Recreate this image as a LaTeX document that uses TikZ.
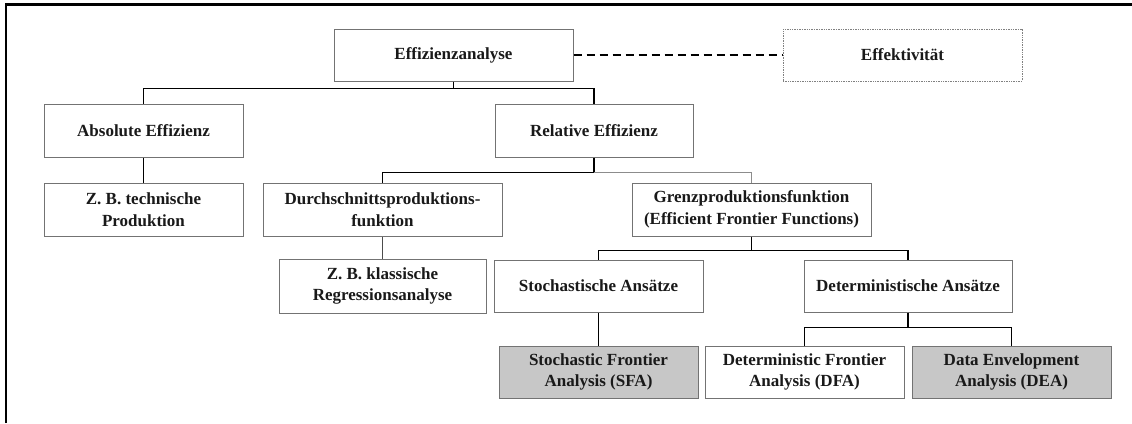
\documentclass[tikz,border=0pt]{standalone}
\usepackage{fontspec}
\setmainfont{Liberation Serif}
\begin{document}
\begin{tikzpicture}[x=1pt,y=-1pt,
  box/.style={draw=black!55,line width=1pt,rectangle,inner sep=0pt,align=center,
    font=\fontsize{17}{21.5}\selectfont\bfseries,text=black!90},
  grey/.style={box,fill=black!22},
  conn/.style={draw=black,line width=1.8pt},
  thinconn/.style={draw=black!45,line width=0.9pt}]
\useasboundingbox (0,0) rectangle (1132,423);
% partial frame
\draw[line width=2.2pt] (6,423) -- (6,4.5) -- (1132,4.5);
% nodes
\node[box,minimum width=239,minimum height=52] (eff) at (453.5,55) {Effizienzanalyse};
\node[box,draw=black!50,dash pattern=on 1pt off 0.7pt,minimum width=239,minimum height=52] (efk) at (902.5,55) {Effektivität};
\node[box,minimum width=199,minimum height=53] (abs) at (143.5,130.5) {Absolute Effizienz};
\node[box,minimum width=198,minimum height=53] (rel) at (594,130.5) {Relative Effizienz};
\node[box,minimum width=199,minimum height=53] (zbt) at (143.5,209.5) {Z. B. technische\\Produktion};
\node[box,minimum width=239,minimum height=53] (dur) at (382.5,209.5) {Durchschnittsproduktions-\\funktion};
\node[box,minimum width=239,minimum height=53] (gre) at (751.5,209.5) {Grenzproduktionsfunktion\\(Efficient Frontier Functions)};
\node[box,minimum width=207,minimum height=54] (zbk) at (382.5,286) {Z. B. klassische\\Regressionsanalyse};
\node[box,minimum width=209,minimum height=52] (sto) at (598.5,286) {Stochastische Ansätze};
\node[box,minimum width=208,minimum height=52] (det) at (908,286) {Deterministische Ansätze};
\node[grey,minimum width=199,minimum height=52] (sfa) at (598.5,372) {Stochastic Frontier\\Analysis (SFA)};
\node[box,minimum width=199,minimum height=52] (dfa) at (804.5,372) {Deterministic Frontier\\Analysis (DFA)};
\node[grey,minimum width=199,minimum height=52] (dea) at (1011.5,372) {Data Envelopment\\Analysis (DEA)};
% connectors
\draw[line width=1.5pt,dash pattern=on 8pt off 5pt] (eff.east) -- (efk.west);
\draw[conn] (eff.south) -- ++(0,7) -| (abs.north);
\draw[conn] (eff.south) -- ++(0,7) -| (rel.north);
\draw[conn] (abs.south) -- (zbt.north);
\draw[conn] (rel.south) -- ++(0,15) -| (dur.north);
\draw[thinconn] (rel.south) ++(0,15) -| (gre.north);
\draw[thinconn,draw=black!70] (dur.south) -- (zbk.north);
\draw[conn] (gre.south) -- ++(0,14) -| (sto.north);
\draw[conn] (gre.south) -- ++(0,14) -| (det.north);
\draw[conn] (sto.south) -- (sfa.north);
\draw[conn] (det.south) -- ++(0,15) -| (dfa.north);
\draw[conn] (det.south) -- ++(0,15) -| (dea.north);
\end{tikzpicture}
\end{document}
